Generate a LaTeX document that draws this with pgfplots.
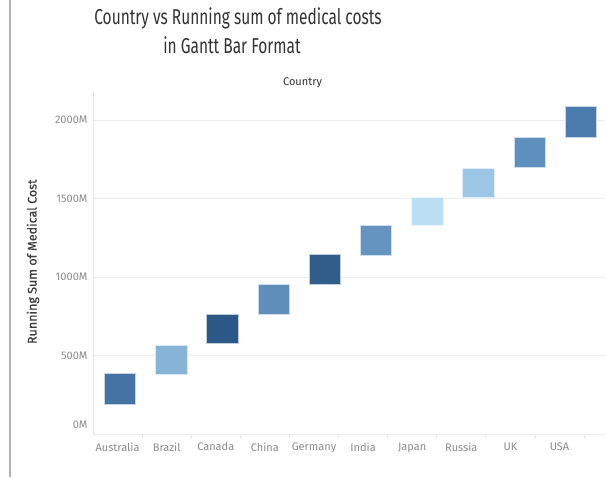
\documentclass[border=0pt]{standalone}
\usepackage{fontspec}
\setmainfont{Fira Sans}
\newfontfamily\titlefont{Fira Sans}[FakeStretch=0.72]
\newfontfamily\ylabfont{Fira Sans}[FakeBold=0.5]
\usepackage{pgfplots}
\pgfplotsset{compat=1.18}
\definecolor{cAus}{HTML}{4573A4}
\definecolor{cBra}{HTML}{86B3D8}
\definecolor{cCan}{HTML}{2B5886}
\definecolor{cChi}{HTML}{5F8EBB}
\definecolor{cGer}{HTML}{305D8A}
\definecolor{cInd}{HTML}{6594C0}
\definecolor{cJap}{HTML}{BADFF2}
\definecolor{cRus}{HTML}{9CC6E5}
\definecolor{cUK}{HTML}{5E90BE}
\definecolor{cUSA}{HTML}{4A7BAC}
\definecolor{titlegray}{HTML}{333333}
\definecolor{labgray}{HTML}{3C3C3C}
\definecolor{tickgray}{HTML}{8C8C8C}
% one Gantt bar: left x, right x, start, end, colour
\newcommand{\gbar}[5]{\addplot[fill=#5, draw=white!70!#5, line width=0.6pt] coordinates {(#1,#3) (#2,#3) (#2,#4) (#1,#4)} -- cycle;}
\begin{document}
\begin{tikzpicture}
\useasboundingbox (0pt,0pt) rectangle (605pt,477pt);
\fill[white] (0pt,0pt) rectangle (605pt,477pt);
\draw[color=black!30, line width=1.2pt] (10pt,0pt) -- (10pt,477pt);
\begin{axis}[
  at={(93pt,43pt)}, anchor=south west, scale only axis,
  width=512pt, height=342pt,
  xmin=-0.527, xmax=9.473, ymin=0, ymax=2180,
  axis x line*=bottom, axis y line*=left,
  axis line style={draw=black!10, line width=0.8pt},
  ytick={500,1000,1500,2000},
  yticklabels={500M,1000M,1500M,2000M},
  extra y ticks={0}, extra y tick labels={0M},
  extra y tick style={yticklabel style={yshift=9pt}},
  ymajorgrids, grid style={draw=black!7, line width=0.8pt},
  major tick length=0pt,
  xtick={-0.047,0.912,1.871,2.830,3.789,4.748,5.707,6.666,7.625,8.584},
  xticklabels={Australia,Brazil,Canada,China,Germany,India,Japan,Russia,UK,USA},
  minor xtick={0.432,1.391,2.350,3.309,4.268,5.227,6.186,7.145,8.104,9.063},
  minor tick length=4pt, tick align=outside,
  minor tick style={draw=black!10, line width=0.8pt},
  ticklabel style={font=\fontsize{11}{13}\selectfont, text=tickgray},
  xticklabel style={yshift=-5pt},
  yticklabel style={xshift=-2pt},
  clip=false,
]
\gbar{-0.307}{0.307}{191}{387}{cAus}
\gbar{0.693}{1.307}{380}{565}{cBra}
\gbar{1.693}{2.307}{575}{762}{cCan}
\gbar{2.693}{3.307}{764}{953}{cChi}
\gbar{3.693}{4.307}{953}{1146}{cGer}
\gbar{4.693}{5.307}{1140}{1329}{cInd}
\gbar{5.693}{6.307}{1329}{1510}{cJap}
\gbar{6.693}{7.307}{1510}{1694}{cRus}
\gbar{7.693}{8.307}{1701}{1890}{cUK}
\gbar{8.693}{9.307}{1890}{2086}{cUSA}
\end{axis}
\node[anchor=base, font=\titlefont\fontsize{21.5}{25}\selectfont, text=titlegray] at (238pt,452pt) {Country vs Running sum of medical costs};
\node[anchor=base, font=\titlefont\fontsize{21.5}{25}\selectfont, text=titlegray] at (232pt,423.7pt) {in Gantt Bar Format};
\node[anchor=base, font=\fontsize{11}{13}\selectfont, text=titlegray] at (302.5pt,391.3pt) {Country};
\node[rotate=90, font=\ylabfont\fontsize{12.5}{14}\selectfont, text=labgray] at (33pt,215.3pt) {Running Sum of Medical Cost};
\end{tikzpicture}
\end{document}
